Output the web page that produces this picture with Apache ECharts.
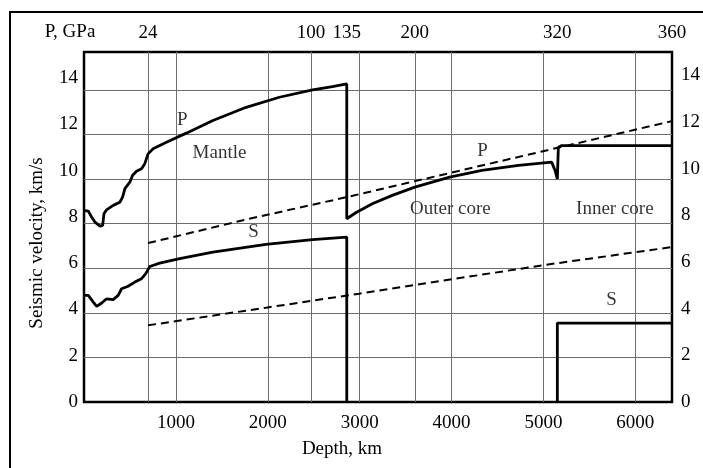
<!DOCTYPE html>
<html>
<head>
<meta charset="utf-8">
<script src="https://cdn.jsdelivr.net/npm/echarts@6/dist/echarts.min.js"></script>
<style>
  html, body { margin: 0; padding: 0; background: #fff; }
  #chart { width: 703px; height: 468px; }
</style>
</head>
<body>
<div id="chart"></div>
<script>
// depth in km, velocity in km/s
var pDepth = [0, 47, 84, 119, 174, 203, 217, 246, 318, 390, 420, 445, 499, 506, 528, 571, 626, 662, 697, 752, 897, 1114, 1403, 1765, 2126, 2487, 2704, 2860,
              2860, 2958, 3138, 3355, 3601, 3980, 4331, 4729, 5090, 5127, 5152, 5163, 5199, 6400];
var pVel   = [8.59, 8.56, 8.29, 8.07, 7.89, 7.92, 8.44, 8.62, 8.82, 8.96, 9.19, 9.57, 9.86, 9.94, 10.16, 10.35, 10.46, 10.69, 11.13, 11.36, 11.65, 12.06, 12.63, 13.22, 13.67, 14.0, 14.15, 14.27,
              8.22, 8.49, 8.89, 9.27, 9.64, 10.09, 10.39, 10.61, 10.76, 10.39, 10.01, 11.43, 11.5, 11.5];

var sDepth = [0, 47, 101, 138, 192, 246, 318, 372, 409, 480, 553, 626, 672, 716, 824, 1041, 1403, 1981, 2487, 2860, 2860];
var sVel   = [4.78, 4.78, 4.48, 4.29, 4.44, 4.63, 4.59, 4.78, 5.08, 5.19, 5.38, 5.53, 5.76, 6.08, 6.23, 6.43, 6.72, 7.07, 7.28, 7.40, 0];

var sInnerDepth = [5152, 5152, 6400];
var sInnerVel   = [0, 3.54, 3.54];

// dashed reference lines
var pRefDepth = [697, 1800, 2860, 4986, 6400];
var pRefVel   = [7.13, 8.22, 9.19, 11.24, 12.6];
var sRefDepth = [697, 1981, 2993, 4986, 6400];
var sRefVel   = [3.44, 4.23, 4.86, 6.13, 6.95];

// ticks
var depthTicks = [1000, 2000, 3000, 4000, 5000, 6000];
var velTicks = [0, 2, 4, 6, 8, 10, 12, 14];
var pressureDepth = [697, 2470, 2860, 3601, 5152, 6400];
var pressureLabels = ['24', '100', '135', '200', '320', '360'];
var pressureGrid = [697, 2470, 3601];

// text on the plot
var noteText  = ['P', 'Mantle', 'S', 'P', 'Outer core', 'Inner core', 'S'];
var noteDepth = [1070, 1475, 1844, 4338, 3988, 5778, 5741];
var noteVel   = [12.63, 11.16, 7.62, 11.25, 8.67, 8.67, 4.56];

function zip(a, b) {
    return a.map(function (v, i) { return [v, b[i]]; });
}

var FONT = 'Liberation Serif';
var TXT = '#000';
var chart = echarts.init(document.getElementById('chart'));

var lineBase = { type: 'line', symbol: 'none', smooth: false, silent: true, xAxisIndex: 0, yAxisIndex: 0 };

chart.setOption({
    animation: false,
    backgroundColor: '#fff',
    grid: { left: 84, right: 29, top: 52, bottom: 66, show: true, borderColor: '#000', borderWidth: 2.5 },
    xAxis: [{
        type: 'value', min: 0, max: 6400, position: 'bottom',
        axisLine: { show: false },
        axisTick: { show: false, customValues: depthTicks },
        axisLabel: { customValues: depthTicks, margin: 12, fontFamily: FONT, fontSize: 19, color: TXT,
            formatter: function (v) { return String(v); } },
        splitLine: { show: true, lineStyle: { color: '#6e6e6e', width: 1 } }
    }, {
        type: 'value', min: 0, max: 6400, position: 'top',
        axisLine: { show: false },
        axisTick: { show: false, customValues: pressureGrid },
        axisLabel: {
            customValues: pressureDepth, margin: 9, fontFamily: FONT, fontSize: 19, color: TXT,
            formatter: function (v) { return pressureLabels[pressureDepth.indexOf(v)]; }
        },
        splitLine: { show: true, lineStyle: { color: '#6e6e6e', width: 1 } }
    }],
    yAxis: [{
        type: 'value', min: 0, max: 15.7, position: 'left',
        axisLine: { show: false },
        axisTick: { show: false, customValues: [2, 4, 6, 8, 10, 12, 14] },
        axisLabel: { show: false },
        splitLine: { show: true, lineStyle: { color: '#6e6e6e', width: 1 } }
    }, {
        // label scale of the left side
        type: 'value', min: 0, max: 15.12, position: 'left',
        axisLine: { show: false }, axisTick: { show: false }, splitLine: { show: false },
        axisLabel: { customValues: velTicks, margin: 6, fontFamily: FONT, fontSize: 19, color: TXT }
    }, {
        type: 'value', min: 0, max: 15.0, position: 'right',
        axisLine: { show: false }, axisTick: { show: false }, splitLine: { show: false },
        axisLabel: { customValues: velTicks, margin: 9, fontFamily: FONT, fontSize: 19, color: TXT }
    }],
    series: [
        Object.assign({}, lineBase, { name: 'P ref', data: zip(pRefDepth, pRefVel), lineStyle: { color: '#000', width: 2, type: [8, 5] } }),
        Object.assign({}, lineBase, { name: 'S ref', data: zip(sRefDepth, sRefVel), lineStyle: { color: '#000', width: 2, type: [8, 5] } }),
        Object.assign({}, lineBase, { name: 'P', data: zip(pDepth, pVel), lineStyle: { color: '#000', width: 2.8 } }),
        Object.assign({}, lineBase, { name: 'S', data: zip(sDepth, sVel), lineStyle: { color: '#000', width: 2.8 } }),
        Object.assign({}, lineBase, { name: 'S inner', data: zip(sInnerDepth, sInnerVel), lineStyle: { color: '#000', width: 2.8 } }),
        {
            type: 'scatter', silent: true, symbolSize: 1,
            itemStyle: { color: 'rgba(0,0,0,0)' },
            data: noteDepth.map(function (d, i) { return [d, noteVel[i], noteText[i]]; }),
            label: {
                show: true, position: 'inside', fontFamily: FONT, fontSize: 19, color: TXT,
                formatter: function (p) { return p.value[2]; }
            }
        }
    ],
    graphic: [
        { type: 'rect', shape: { x: 10, y: 12, width: 800, height: 600 }, style: { fill: null, stroke: '#000', lineWidth: 2 }, silent: true },
        { type: 'text', x: 70, y: 32, style: { text: 'P, GPa', align: 'center', verticalAlign: 'middle', fontFamily: FONT, fontSize: 19, fill: TXT } },
        { type: 'text', x: 342, y: 449, style: { text: 'Depth, km', align: 'center', verticalAlign: 'middle', fontFamily: FONT, fontSize: 19, fill: TXT } },
        { type: 'text', x: 37, y: 243, rotation: Math.PI / 2, style: { text: 'Seismic velocity, km/s', align: 'center', verticalAlign: 'middle', fontFamily: FONT, fontSize: 19, fill: TXT } }
    ]
});
</script>
</body>
</html>
